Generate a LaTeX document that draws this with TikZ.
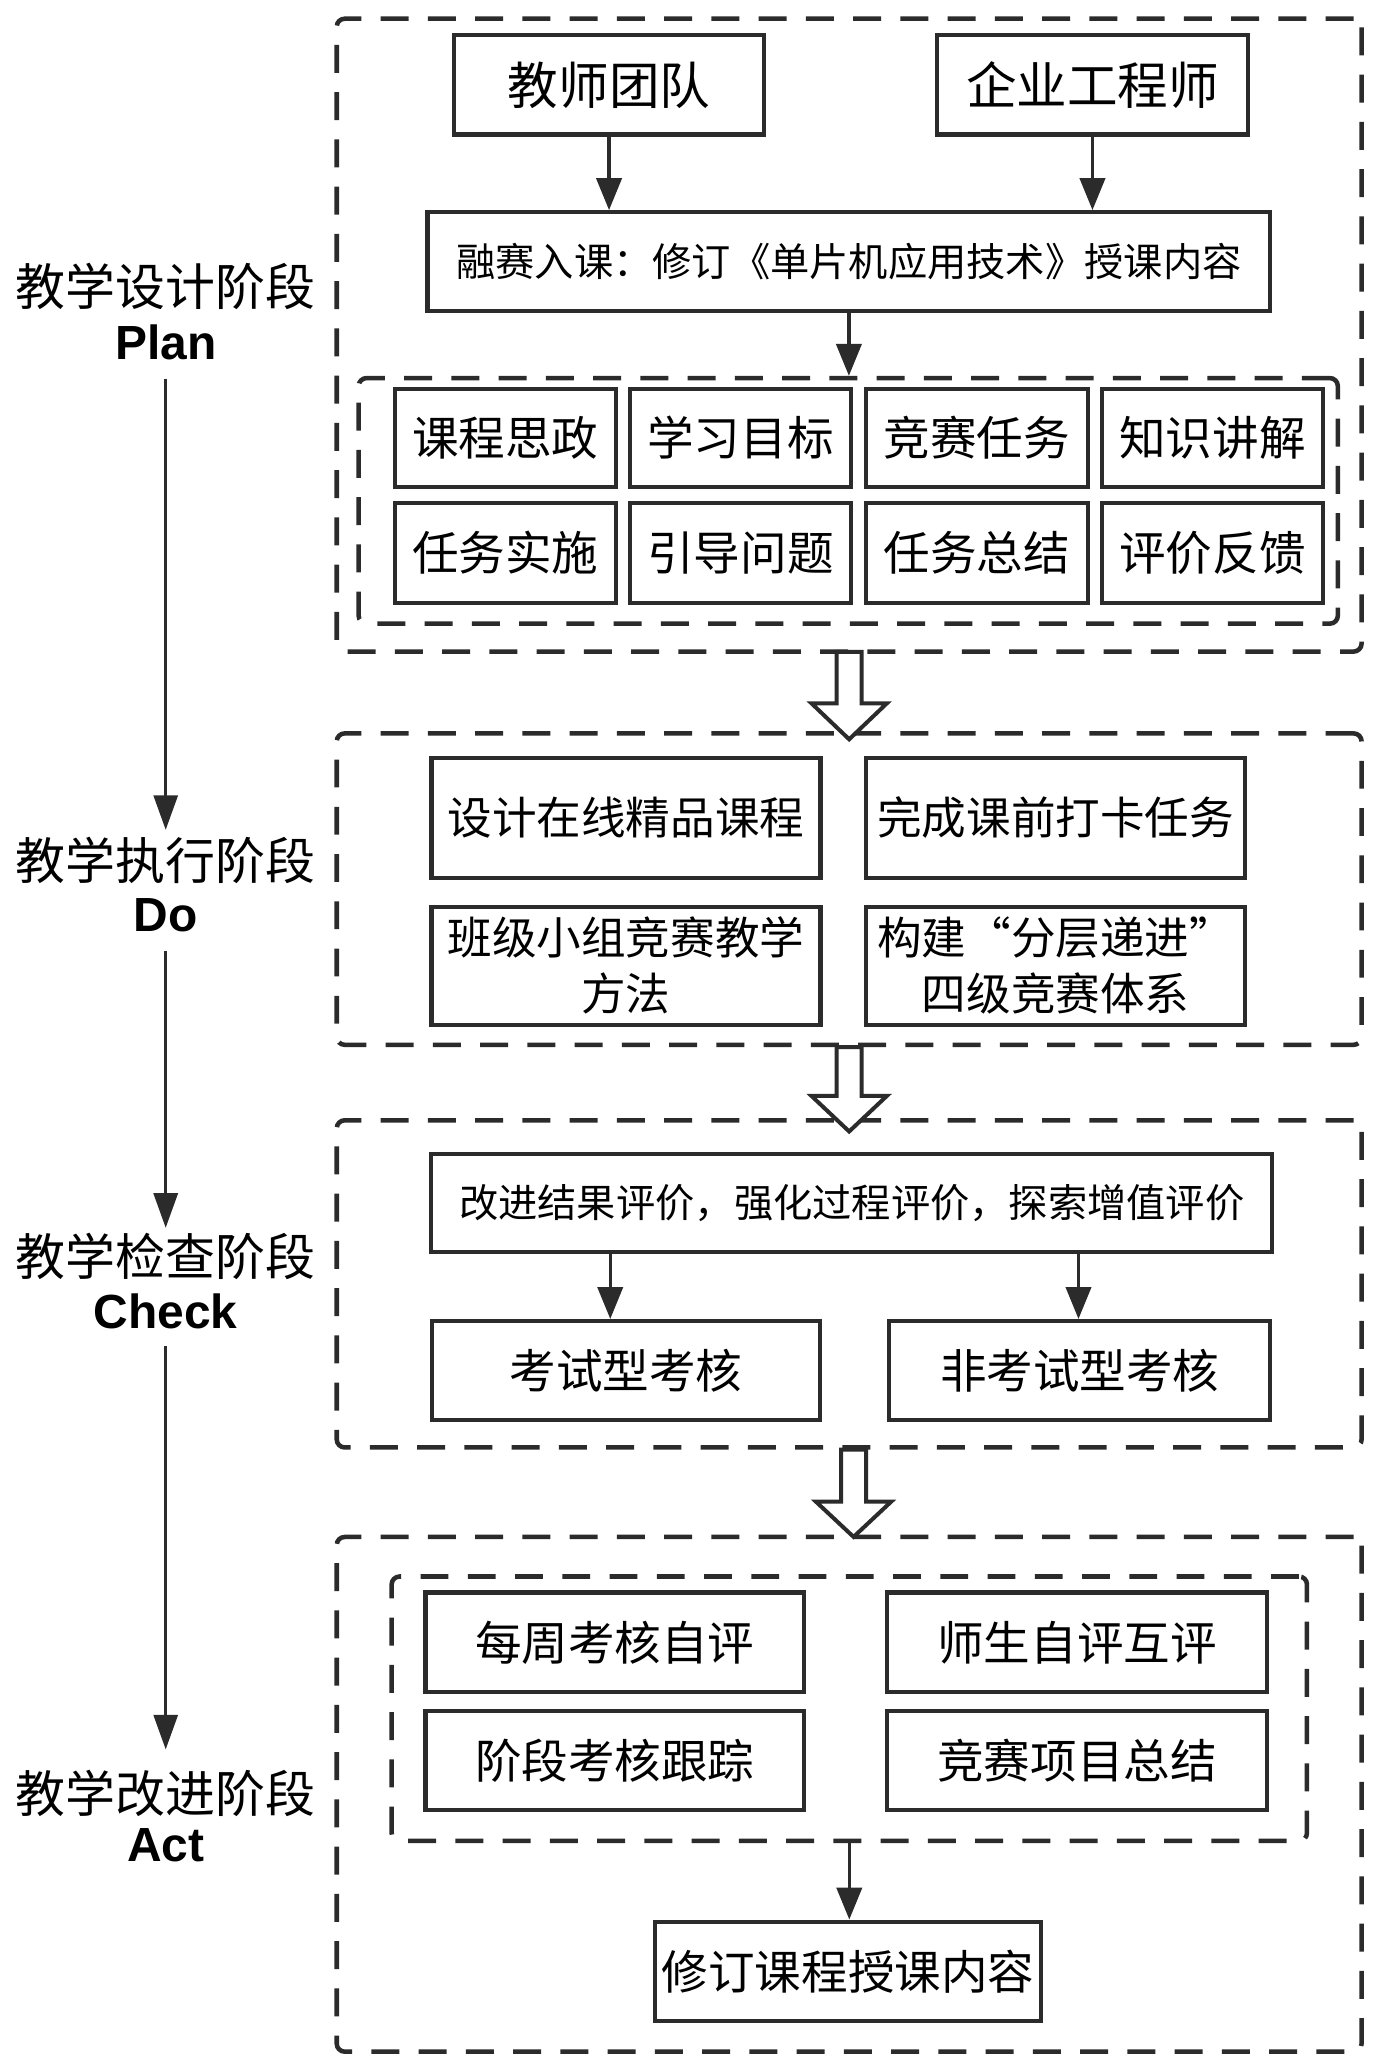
\documentclass[tikz,border=0pt]{standalone}
\usepackage{fontspec}
\newfontfamily\cjk{Noto Sans CJK SC}
\newfontfamily\lat{Liberation Sans}
\usetikzlibrary{arrows.meta}
\definecolor{ln}{HTML}{2B2B2B}
\begin{document}
\begin{tikzpicture}[x=1pt,y=-1pt,
 box/.style={draw=ln, line width=3.1pt, inner sep=0pt, align=center, font=\cjk\fontsize{35}{42}\selectfont},
 sbox/.style={box, font=\cjk\fontsize{29.5}{36}\selectfont},
 tbox/.style={box, font=\cjk\fontsize{38}{44}\selectfont},
 dobox/.style={box, font=\cjk\fontsize{33.5}{42}\selectfont},
 dbox/.style={draw=ln, line width=3.4pt, dash pattern=on 21pt off 14.5pt, rounded corners=6pt, inner sep=0pt},
 arr/.style={draw=ln, line width=2.4pt, -{Triangle[length=24pt,width=19pt]}},
 larr/.style={draw=ln, line width=2.4pt, -{Triangle[length=26pt,width=18pt]}},
 hollow/.style={draw=ln, line width=3pt, fill=white, line join=miter},
 stage/.style={align=center, inner sep=0pt, font=\cjk\fontsize{37.5}{42}\selectfont},
 estage/.style={inner sep=0pt, font=\lat\bfseries\fontsize{36}{40}\selectfont}
]
\useasboundingbox (0,0) rectangle (1045,1556);

% ---------- Plan ----------
\node[dbox, minimum width=770pt, minimum height=475.5pt] (plan) at (638,251.8) {};
\node[tbox, minimum width=233pt, minimum height=74.5pt] (t1) at (457.6,63.8) {教师团队};
\node[tbox, minimum width=233.5pt, minimum height=74.5pt] (t2) at (820.8,63.8) {企业工程师};
\node[sbox, minimum width=633.3pt, minimum height=74.2pt] (rs) at (637.8,196.5) {融赛入课：修订《单片机应用技术》授课内容};
\node[dbox, minimum width=735.7pt, minimum height=184.5pt] (pin) at (637.3,376.3) {};
\node[box, minimum width=166.3pt, minimum height=74pt] (g1) at (379.7,329) {课程思政};
\node[box, minimum width=166.3pt, minimum height=74pt] (g2) at (556.4,329) {学习目标};
\node[box, minimum width=166.3pt, minimum height=74pt] (g3) at (734,329) {竞赛任务};
\node[box, minimum width=166.3pt, minimum height=74pt] (g4) at (911,329) {知识讲解};
\node[box, minimum width=166.3pt, minimum height=75pt] (g5) at (379.7,415.5) {任务实施};
\node[box, minimum width=166.3pt, minimum height=75pt] (g6) at (556.4,415.5) {引导问题};
\node[box, minimum width=166.3pt, minimum height=75pt] (g7) at (734,415.5) {任务总结};
\node[box, minimum width=166.3pt, minimum height=75pt] (g8) at (911,415.5) {评价反馈};
\draw[arr] (t1.south) -- (rs.north -| t1.south);
\draw[arr] (t2.south) -- (rs.north -| t2.south);
\draw[arr] (rs.south) -- (pin.north -| rs.south);

% ---------- Do ----------
\node[dbox, minimum width=770pt, minimum height=234pt] (do) at (638,668) {};
\node[dobox, minimum width=292.3pt, minimum height=90.3pt] (d1) at (470.3,614.5) {设计在线精品课程};
\node[dobox, minimum width=284.8pt, minimum height=90.3pt] (d2) at (793.1,614.5) {完成课前打卡任务};
\node[dobox, minimum width=292.3pt, minimum height=88.6pt] (d3) at (470.3,725.6) {班级小组竞赛教学\\方法};
\node[dobox, minimum width=284.8pt, minimum height=88.6pt] (d4) at (793.1,725.6) {构建“分层递进”\\四级竞赛体系};

% ---------- Check ----------
\node[dbox, minimum width=770pt, minimum height=245.8pt] (chk) at (638,964.6) {};
\node[sbox, minimum width=631.8pt, minimum height=73.6pt] (gj) at (640,903.6) {改进结果评价，强化过程评价，探索增值评价};
\node[box, minimum width=292pt, minimum height=74.4pt] (k1) at (470.3,1029.7) {考试型考核};
\node[box, minimum width=286.3pt, minimum height=74.4pt] (k2) at (811.3,1029.7) {非考试型考核};
\coordinate (a1) at (458.5,0);
\coordinate (a2) at (810.3,0);
\draw[arr] (gj.south -| a1) -- (k1.north -| a1);
\draw[arr] (gj.south -| a2) -- (k2.north -| a2);

% ---------- Act ----------
\node[dbox, minimum width=770pt, minimum height=386.7pt] (act) at (638,1348.1) {};
\node[dbox, minimum width=687.7pt, minimum height=198.7pt] (ain) at (638.1,1283.8) {};
\node[box, minimum width=284.5pt, minimum height=74.8pt] (c1) at (461.9,1233.9) {每周考核自评};
\node[box, minimum width=286.1pt, minimum height=74.8pt] (c2) at (809.2,1233.9) {师生自评互评};
\node[box, minimum width=284.5pt, minimum height=74.5pt] (c3) at (461.9,1322.8) {阶段考核跟踪};
\node[box, minimum width=286.1pt, minimum height=74.5pt] (c4) at (809.2,1322.8) {竞赛项目总结};
\node[box, minimum width=290.4pt, minimum height=74.5pt] (xd) at (637.2,1481) {修订课程授课内容};
\draw[arr] (ain.south) -- (xd.north -| ain.south);

% ---------- hollow arrows ----------
\draw[hollow] (plan.south) ++(-9.4,-1.5) -- ++(0,38.7) -- ++(-18.9,0) -- ++(28.3,27) -- ++(28.3,-27) -- ++(-18.9,0) -- ++(0,-38.7) -- cycle;
\draw[hollow] (do.south) ++(-9.4,0) -- ++(0,36.7) -- ++(-18.9,0) -- ++(28.3,26.7) -- ++(28.3,-26.7) -- ++(-18.9,0) -- ++(0,-36.7) -- cycle;
\draw[hollow] (chk.south) ++(-6.1,0) -- ++(0,39) -- ++(-18.9,0) -- ++(28.3,26.5) -- ++(28.3,-26.5) -- ++(-18.9,0) -- ++(0,-39) -- cycle;

% ---------- stage labels ----------
\node[stage] (s1) at (124.5,215) {教学设计阶段};
\node[estage] (s1e) at (124.5,257) {Plan};
\node[stage] (s2) at (124.5,646.2) {教学执行阶段};
\node[estage] (s2e) at (124.5,688) {Do};
\node[stage] (s3) at (124.5,943.8) {教学检查阶段};
\node[estage] (s3e) at (124.5,985.6) {Check};
\node[stage] (s4) at (124.5,1347.7) {教学改进阶段};
\node[estage] (s4e) at (124.5,1386.3) {Act};
\draw[larr, shorten <=14pt, shorten >=5pt] (s1e.south) -- (s2.north);
\draw[larr, shorten <=14pt, shorten >=3.6pt] (s2e.south) -- (s3.north);
\draw[larr, shorten <=12pt, shorten >=15.6pt] (s3e.south) -- (s4.north);
\end{tikzpicture}
\end{document}
